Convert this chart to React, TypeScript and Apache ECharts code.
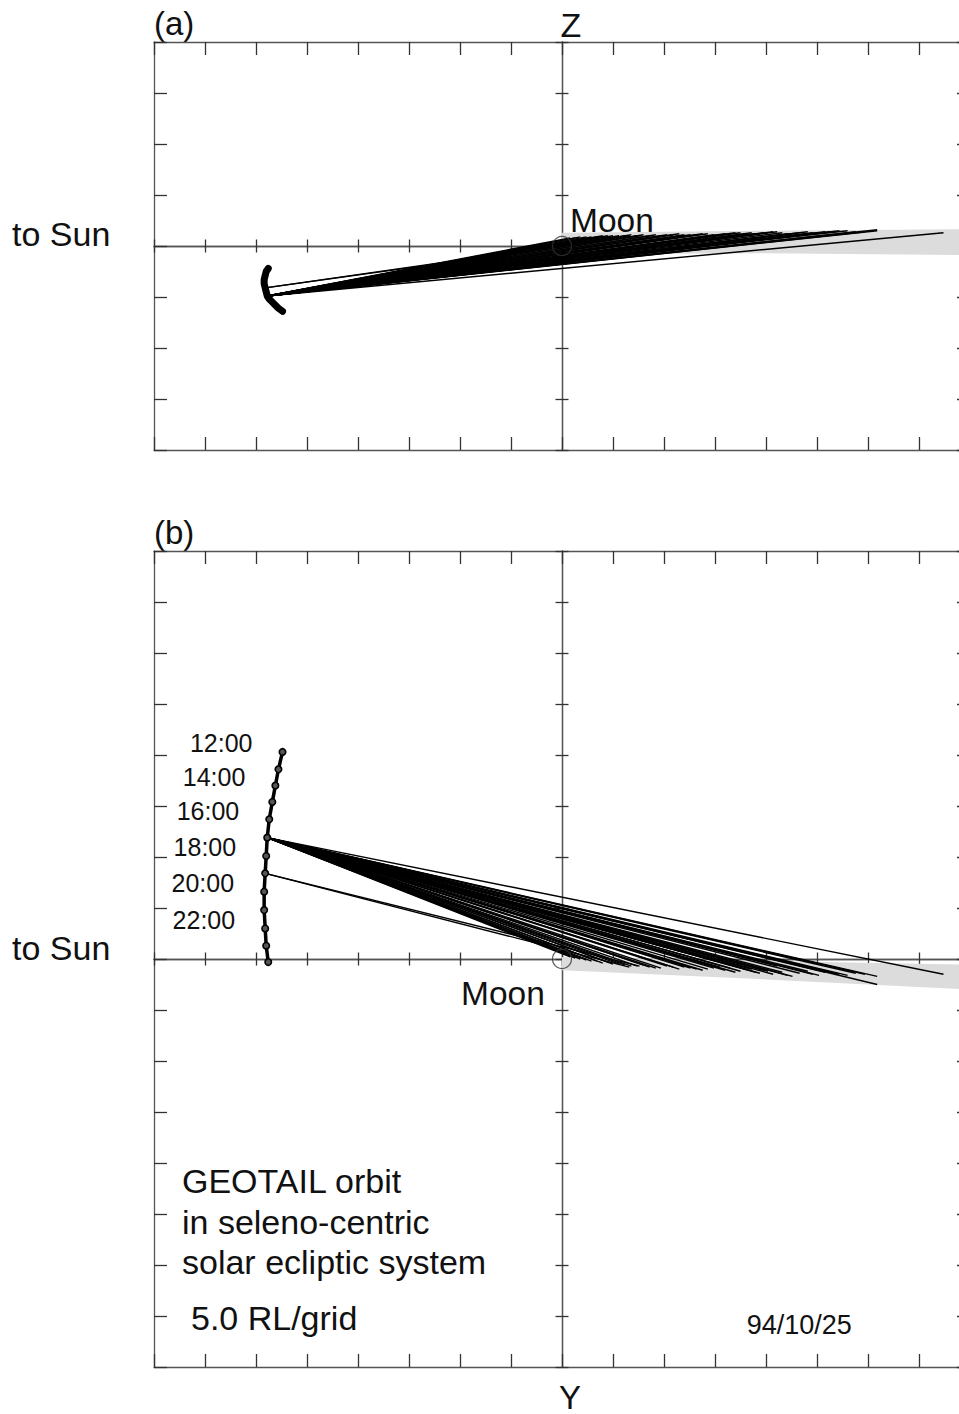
import React, { useEffect, useRef } from "react";
import * as echarts from "echarts";

// hourly orbit samples (RL, seleno-centric solar ecliptic)
const hours = [12, 13, 14, 15, 16, 17, 18, 19, 20, 21, 22, 23, 24];
const timeLabels = ["12:00", "14:00", "16:00", "18:00", "20:00", "22:00"];
const orbitX = [-27.4, -27.8, -28.1, -28.4, -28.7, -28.9, -29.0, -29.1, -29.2, -29.2, -29.1, -29.0, -28.8];
const orbitZ = [-6.4, -6.1, -5.8, -5.5, -5.2, -4.9, -4.5, -4.1, -3.7, -3.3, -2.9, -2.5, -2.2];
const orbitY = [20.3, 18.6, 17.0, 15.4, 13.7, 11.9, 10.1, 8.4, 6.6, 4.8, 3.0, 1.3, -0.3];

// traced lines: start hour and end point
const traceStartHour = [
  17, 17, 17, 17, 17, 17, 17, 17, 17, 17, 17, 17, 17, 17, 17, 17, 17, 17, 17, 17,
  17, 17, 17, 17, 17, 17, 17, 17, 17, 17, 17, 17, 17, 17, 17, 17, 17, 17, 17, 17,
  17, 17, 17, 17, 17, 17, 17, 17, 17, 17, 17, 17, 17, 17, 17, 19, 19,
];
const traceEndX = [
  0.8, 1.3, 1.8, 2.4, 2.9, 3.4, 4.0, 4.5, 5.0, 5.6,
  6.2, 6.8, 7.4, 8.0, 8.6, 9.2, 9.7, 10.3, 10.9, 11.5,
  12.0, 12.6, 13.2, 13.8, 14.3, 14.9, 15.5, 16.0, 16.5, 17.0,
  17.5, 18.1, 18.6, 19.0, 19.4, 19.8, 20.2, 20.7, 21.1, 21.6,
  22.1, 22.6, 23.3, 24.1, 24.6, 25.2, 25.8, 26.3, 27.2, 28.0,
  28.8, 29.7, 30.9, 30.9, 37.4, 6.6, 7.6,
];
const traceEndY = [
  0.2, 0.1, 0.0, -0.1, -0.2, -0.2, -0.4, -0.3, -0.5, -0.5,
  -0.6, -0.7, -0.7, -0.6, -0.8, -0.9, -0.9, -0.7, -0.8, -1.0,
  -0.8, -0.9, -1.0, -1.1, -1.0, -0.9, -0.8, -1.1, -0.9, -1.3,
  -1.2, -1.0, -1.0, -1.3, -1.4, -1.1, -1.2, -1.5, -0.7, -1.3,
  -1.6, -1.7, -1.4, -1.2, -1.5, -1.6, -1.3, -1.3, -1.5, -1.6,
  -1.4, -1.5, -1.7, -2.5, -1.5, -0.8, -0.7,
];
const traceEndZ = [
  0.8, 0.8, 0.9, 0.9, 0.9, 0.9, 1.0, 1.0, 1.0, 1.0,
  1.0, 1.1, 1.0, 1.1, 1.0, 1.1, 1.0, 1.1, 1.1, 1.2,
  1.1, 1.1, 1.1, 1.2, 1.2, 1.1, 1.1, 1.2, 1.2, 1.3,
  1.3, 1.2, 1.3, 1.2, 1.2, 1.3, 1.3, 1.4, 1.4, 1.3,
  1.2, 1.2, 1.3, 1.4, 1.3, 1.3, 1.4, 1.4, 1.5, 1.5,
  1.4, 1.4, 1.5, 1.6, 1.3, 1.0, 1.0,
];

// lunar wake band
const wakeX = [0, 20, 40];
const wakeZUpper = [1.3, 1.5, 1.65];
const wakeZLower = [-0.8, -0.7, -0.9];
const wakeYUpper = [0.2, -0.2, -0.55];
const wakeYLower = [-1.1, -2.0, -3.0];

const FONT = '"Liberation Sans", Arial, sans-serif';
const AXIS_COLOR = "#555";
const TICK_COLOR = "#333";

function frameAxis(gridIndex: number, position: string, min: number, max: number) {
  return {
    type: "value",
    gridIndex,
    position,
    min,
    max,
    interval: 5,
    axisLine: { show: true, onZero: false, lineStyle: { color: AXIS_COLOR, width: 1.3 } },
    axisTick: { show: true, inside: true, length: 13, lineStyle: { color: TICK_COLOR, width: 1.3 } },
    axisLabel: { show: false },
    splitLine: { show: false },
  };
}
function centerAxis(gridIndex: number, position: string, min: number, max: number, inside: boolean) {
  return {
    type: "value",
    gridIndex,
    position,
    min,
    max,
    interval: 5,
    axisLine: { show: true, onZero: true, lineStyle: { color: AXIS_COLOR, width: 1.3 } },
    axisTick: { show: true, inside, length: 6.5, lineStyle: { color: TICK_COLOR, width: 1.3 } },
    axisLabel: { show: false },
    splitLine: { show: false },
  };
}

function bandSeries(xi: number, yi: number, upper: number[], lower: number[]) {
  return {
    type: "custom",
    coordinateSystem: "cartesian2d",
    xAxisIndex: xi,
    yAxisIndex: yi,
    data: [[0, 0]],
    silent: true,
    z: 1,
    renderItem: (_p: any, api: any) => {
      const top = wakeX.map((x, i) => api.coord([x, upper[i]]));
      const bot = wakeX.map((x, i) => api.coord([x, lower[i]])).reverse();
      return { type: "polygon", shape: { points: top.concat(bot) }, style: { fill: "#dcdcdc" } };
    },
  };
}

function traceSeries(xi: number, yi: number, oy: number[], ey: number[]) {
  return {
    type: "lines",
    coordinateSystem: "cartesian2d",
    xAxisIndex: xi,
    yAxisIndex: yi,
    silent: true,
    z: 4,
    lineStyle: { color: "#000", width: 1.4, opacity: 1 },
    data: traceEndX.map((x, i) => {
      const k = hours.indexOf(traceStartHour[i]);
      return { coords: [[orbitX[k], oy[k]], [x, ey[i]]] };
    }),
  };
}

function moonSeries(xi: number, yi: number) {
  return {
    type: "scatter",
    xAxisIndex: xi,
    yAxisIndex: yi,
    silent: true,
    z: 6,
    symbol: "circle",
    symbolSize: 19,
    itemStyle: { color: "rgba(0,0,0,0)", borderColor: "#333", borderWidth: 1.2 },
    data: [[0, 0]],
  };
}

function txt(text: string, x: number, y: number, size: number, align = "left") {
  return {
    type: "text",
    x,
    y,
    silent: true,
    style: {
      text,
      font: `${size}px ${FONT}`,
      fill: "#111",
      align,
      verticalAlign: "middle",
      textAlign: align,
      textVerticalAlign: "middle",
    },
  };
}

function buildOption() {
  const gA = 0;
  const gB = 1;
  return {
    animation: false,
    backgroundColor: "#fff",
    grid: [
      { left: 154, top: 42, width: 816, height: 408, containLabel: false, outerBoundsMode: "none" },
      { left: 154, top: 551, width: 816, height: 816, containLabel: false, outerBoundsMode: "none" },
    ],
    xAxis: [
      frameAxis(gA, "bottom", -40, 40),
      frameAxis(gA, "top", -40, 40),
      centerAxis(gA, "bottom", -40, 40, true),
      centerAxis(gA, "bottom", -40, 40, false),
      frameAxis(gB, "bottom", -40, 40),
      frameAxis(gB, "top", -40, 40),
      centerAxis(gB, "bottom", -40, 40, true),
      centerAxis(gB, "bottom", -40, 40, false),
    ],
    yAxis: [
      frameAxis(gA, "left", -20, 20),
      frameAxis(gA, "right", -20, 20),
      centerAxis(gA, "left", -20, 20, true),
      centerAxis(gA, "left", -20, 20, false),
      frameAxis(gB, "left", -40, 40),
      frameAxis(gB, "right", -40, 40),
      centerAxis(gB, "left", -40, 40, true),
      centerAxis(gB, "left", -40, 40, false),
    ],
    series: [
      bandSeries(0, 0, wakeZUpper, wakeZLower),
      traceSeries(0, 0, orbitZ, traceEndZ),
      {
        type: "line",
        xAxisIndex: 0,
        yAxisIndex: 0,
        silent: true,
        z: 5,
        data: orbitX.map((x, i) => [x, orbitZ[i]]),
        lineStyle: { color: "#000", width: 7, cap: "round", join: "round" },
        symbol: "circle",
        symbolSize: 6,
        showSymbol: true,
        itemStyle: { color: "#000" },
      },
      moonSeries(0, 0),
      bandSeries(4, 4, wakeYUpper, wakeYLower),
      traceSeries(4, 4, orbitY, traceEndY),
      {
        type: "line",
        xAxisIndex: 4,
        yAxisIndex: 4,
        silent: true,
        z: 5,
        data: orbitX.map((x, i) => {
          const lab = `${hours[i]}:00`;
          const show = timeLabels.indexOf(lab) >= 0;
          return { value: [x, orbitY[i]], label: show ? { show: true, formatter: lab } : { show: false } };
        }),
        lineStyle: { color: "#000", width: 3.5 },
        symbol: "circle",
        symbolSize: 6.5,
        showSymbol: true,
        itemStyle: { color: "#555", borderColor: "#000", borderWidth: 1.6 },
        label: {
          position: "left",
          distance: 26,
          offset: [0, -8.7],
          fontSize: 25,
          fontFamily: FONT,
          color: "#111",
        },
      },
      moonSeries(4, 4),
    ],
    graphic: [
      txt("(a)", 154, 23.6, 33),
      txt("Z", 571, 24.6, 34, "center"),
      txt("to Sun", 12, 234.3, 34),
      txt("Moon", 570, 220.3, 33.5),
      txt("(b)", 154, 532, 33),
      txt("to Sun", 12, 948, 34),
      txt("Moon", 461, 993.6, 33.5),
      txt("GEOTAIL orbit", 182, 1181.3, 34),
      txt("in seleno-centric", 182, 1221.6, 34),
      txt("solar ecliptic system", 182, 1261.6, 34),
      txt("5.0 RL/grid", 191, 1317.6, 34),
      txt("94/10/25", 746.7, 1324.6, 27),
      txt("Y", 570, 1397, 33, "center"),
    ],
  };
}

export default function App() {
  const ref = useRef<HTMLDivElement>(null);
  useEffect(() => {
    const chart = echarts.init(ref.current as HTMLDivElement, null, { renderer: "svg" });
    chart.setOption(buildOption() as any);
    return () => chart.dispose();
  }, []);
  return (
    <div
      ref={ref}
      style={{ position: "absolute", left: 0, top: 0, width: 959, height: 1414, background: "#fff", overflow: "hidden" }}
    />
  );
}
